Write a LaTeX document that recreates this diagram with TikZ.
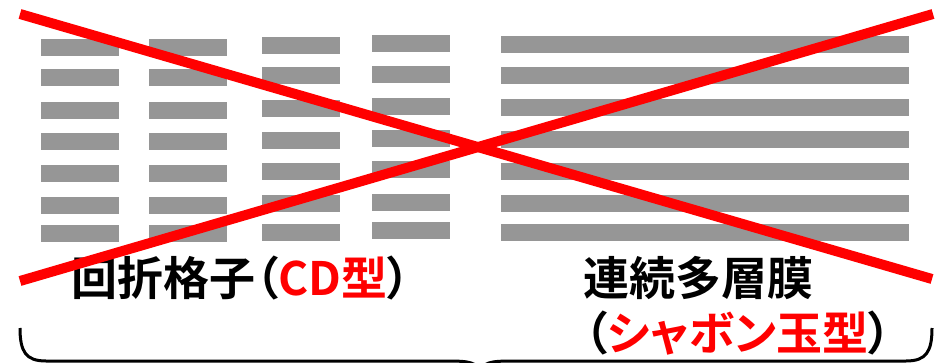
\documentclass[tikz,border=0pt]{standalone}
\usepackage{fontspec}
\newfontfamily\jpfont[BoldFont={Noto Sans CJK JP Bold},RawFeature=+palt]{Noto Sans CJK JP Bold}
\definecolor{bargray}{RGB}{150,150,150}
\definecolor{xred}{RGB}{255,0,0}
\begin{document}
\begin{tikzpicture}[x=1pt,y=-1pt,
  bar/.style={fill=bargray},
  cross/.style={draw=xred,line width=10pt},
  lbl/.style={inner sep=0pt,anchor=west,font=\jpfont\fontsize{46}{50}\selectfont},
  bracestyle/.style={draw=black,line width=3pt}]
\useasboundingbox (0,0) rectangle (944,363);
\clip (0,0) rectangle (944,363);
% grating columns
\foreach \y in {39,69,102,133,165,197,225}{
  \fill[bar] (41,\y) rectangle (119,\y+17);
  \fill[bar] (149,\y) rectangle (227,\y+17);
}
\foreach \y in {37,67,100,132,163,195,224}{
  \fill[bar] (262,\y) rectangle (340,\y+17);
}
\foreach \y in {35,66,98,130,161,194,222}{
  \fill[bar] (372,\y) rectangle (450,\y+17);
}
\foreach \y in {36,67,99,131,163,195,224}{
  \fill[bar] (501,\y) rectangle (909,\y+17);
}
% labels
\node[lbl] (cd) at (71,278) {回折格子（\textcolor{xred}{CD型}）};
\node[lbl] (ml) at (583,278) {連続多層膜};
\node[lbl] (sb) at (584,333) {（\textcolor{xred}{シャボン玉型}）};
% brace
\coordinate (bl) at (20,328);
\coordinate (br) at (932,328);
\coordinate (tip) at (480,374);
\draw[bracestyle] (bl) .. controls (20,352) and (26,361) .. (46,361) -- (446,361) .. controls (470,361) and (478,362) .. (tip);
\draw[bracestyle] (br) .. controls (932,352) and (926,361) .. (906,361) -- (514,361) .. controls (490,361) and (482,362) .. (tip);
% red cross
\coordinate (a1) at (20,14);
\coordinate (a2) at (932,279);
\coordinate (b1) at (933,14);
\coordinate (b2) at (20,281);
\draw[cross] (a1) -- (a2);
\draw[cross] (b1) -- (b2);
\end{tikzpicture}
\end{document}
